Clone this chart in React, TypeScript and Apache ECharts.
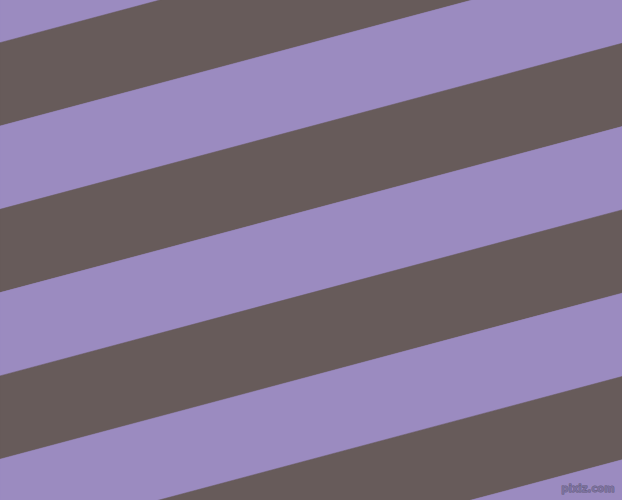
import * as echarts from 'echarts'
import { useEffect, useRef } from 'react'

const WIDTH = 622
const HEIGHT = 500

// stripe edges where they meet the left border (y, px from top)
const stripeTops = [-40.6, 42.7, 126, 209.3, 292.6, 375.9, 459.2, 542.5, 625.8]
const stripeBottoms = [42.7, 126, 209.3, 292.6, 375.9, 459.2, 542.5, 625.8, 709.1]
const stripeColors = ['#9b8bc0', '#675b5a', '#9b8bc0', '#675b5a', '#9b8bc0', '#675b5a', '#9b8bc0', '#675b5a', '#9b8bc0']
// how far each edge climbs from left border to right border
const stripeRise = 166

export default function App() {
  const chartRef = useRef<HTMLDivElement>(null)

  useEffect(() => {
    if (!chartRef.current) return
    const chart = echarts.init(chartRef.current, undefined, { renderer: 'svg' })

    const option: any = {
      animation: false,
      backgroundColor: '#9b8bc0',
      grid: { left: 0, right: 0, top: 0, bottom: 0 },
      xAxis: { type: 'value', min: 0, max: WIDTH, show: false },
      yAxis: { type: 'value', min: 0, max: HEIGHT, inverse: true, show: false },
      series: [
        {
          type: 'custom',
          clip: true,
          data: stripeTops.map((top, i) => [top, stripeBottoms[i], i]),
          renderItem: (params: any, api: any) => {
            const top = api.value(0)
            const bottom = api.value(1)
            const color = stripeColors[api.value(2)]
            const pts = [
              api.coord([0, top]),
              api.coord([WIDTH, top - stripeRise]),
              api.coord([WIDTH, bottom - stripeRise]),
              api.coord([0, bottom])
            ]
            return {
              type: 'polygon',
              shape: { points: pts },
              style: { fill: color, stroke: color, lineWidth: 0.5 }
            }
          }
        }
      ],
      graphic: [
        {
          type: 'text',
          right: 7,
          bottom: 6,
          z: 100,
          style: {
            text: 'pixiz.com',
            font: 'bold 10px "DejaVu Sans", sans-serif',
            fill: '#7d72a0',
            stroke: '#625a78',
            lineWidth: 0.8
          }
        }
      ]
    }

    chart.setOption(option)

    return () => {
      chart.dispose()
    }
  }, [])

  return (
    <div
      ref={chartRef}
      style={{
        position: 'fixed',
        left: 0,
        top: 0,
        width: `${WIDTH}px`,
        height: `${HEIGHT}px`
      }}
    />
  )
}
